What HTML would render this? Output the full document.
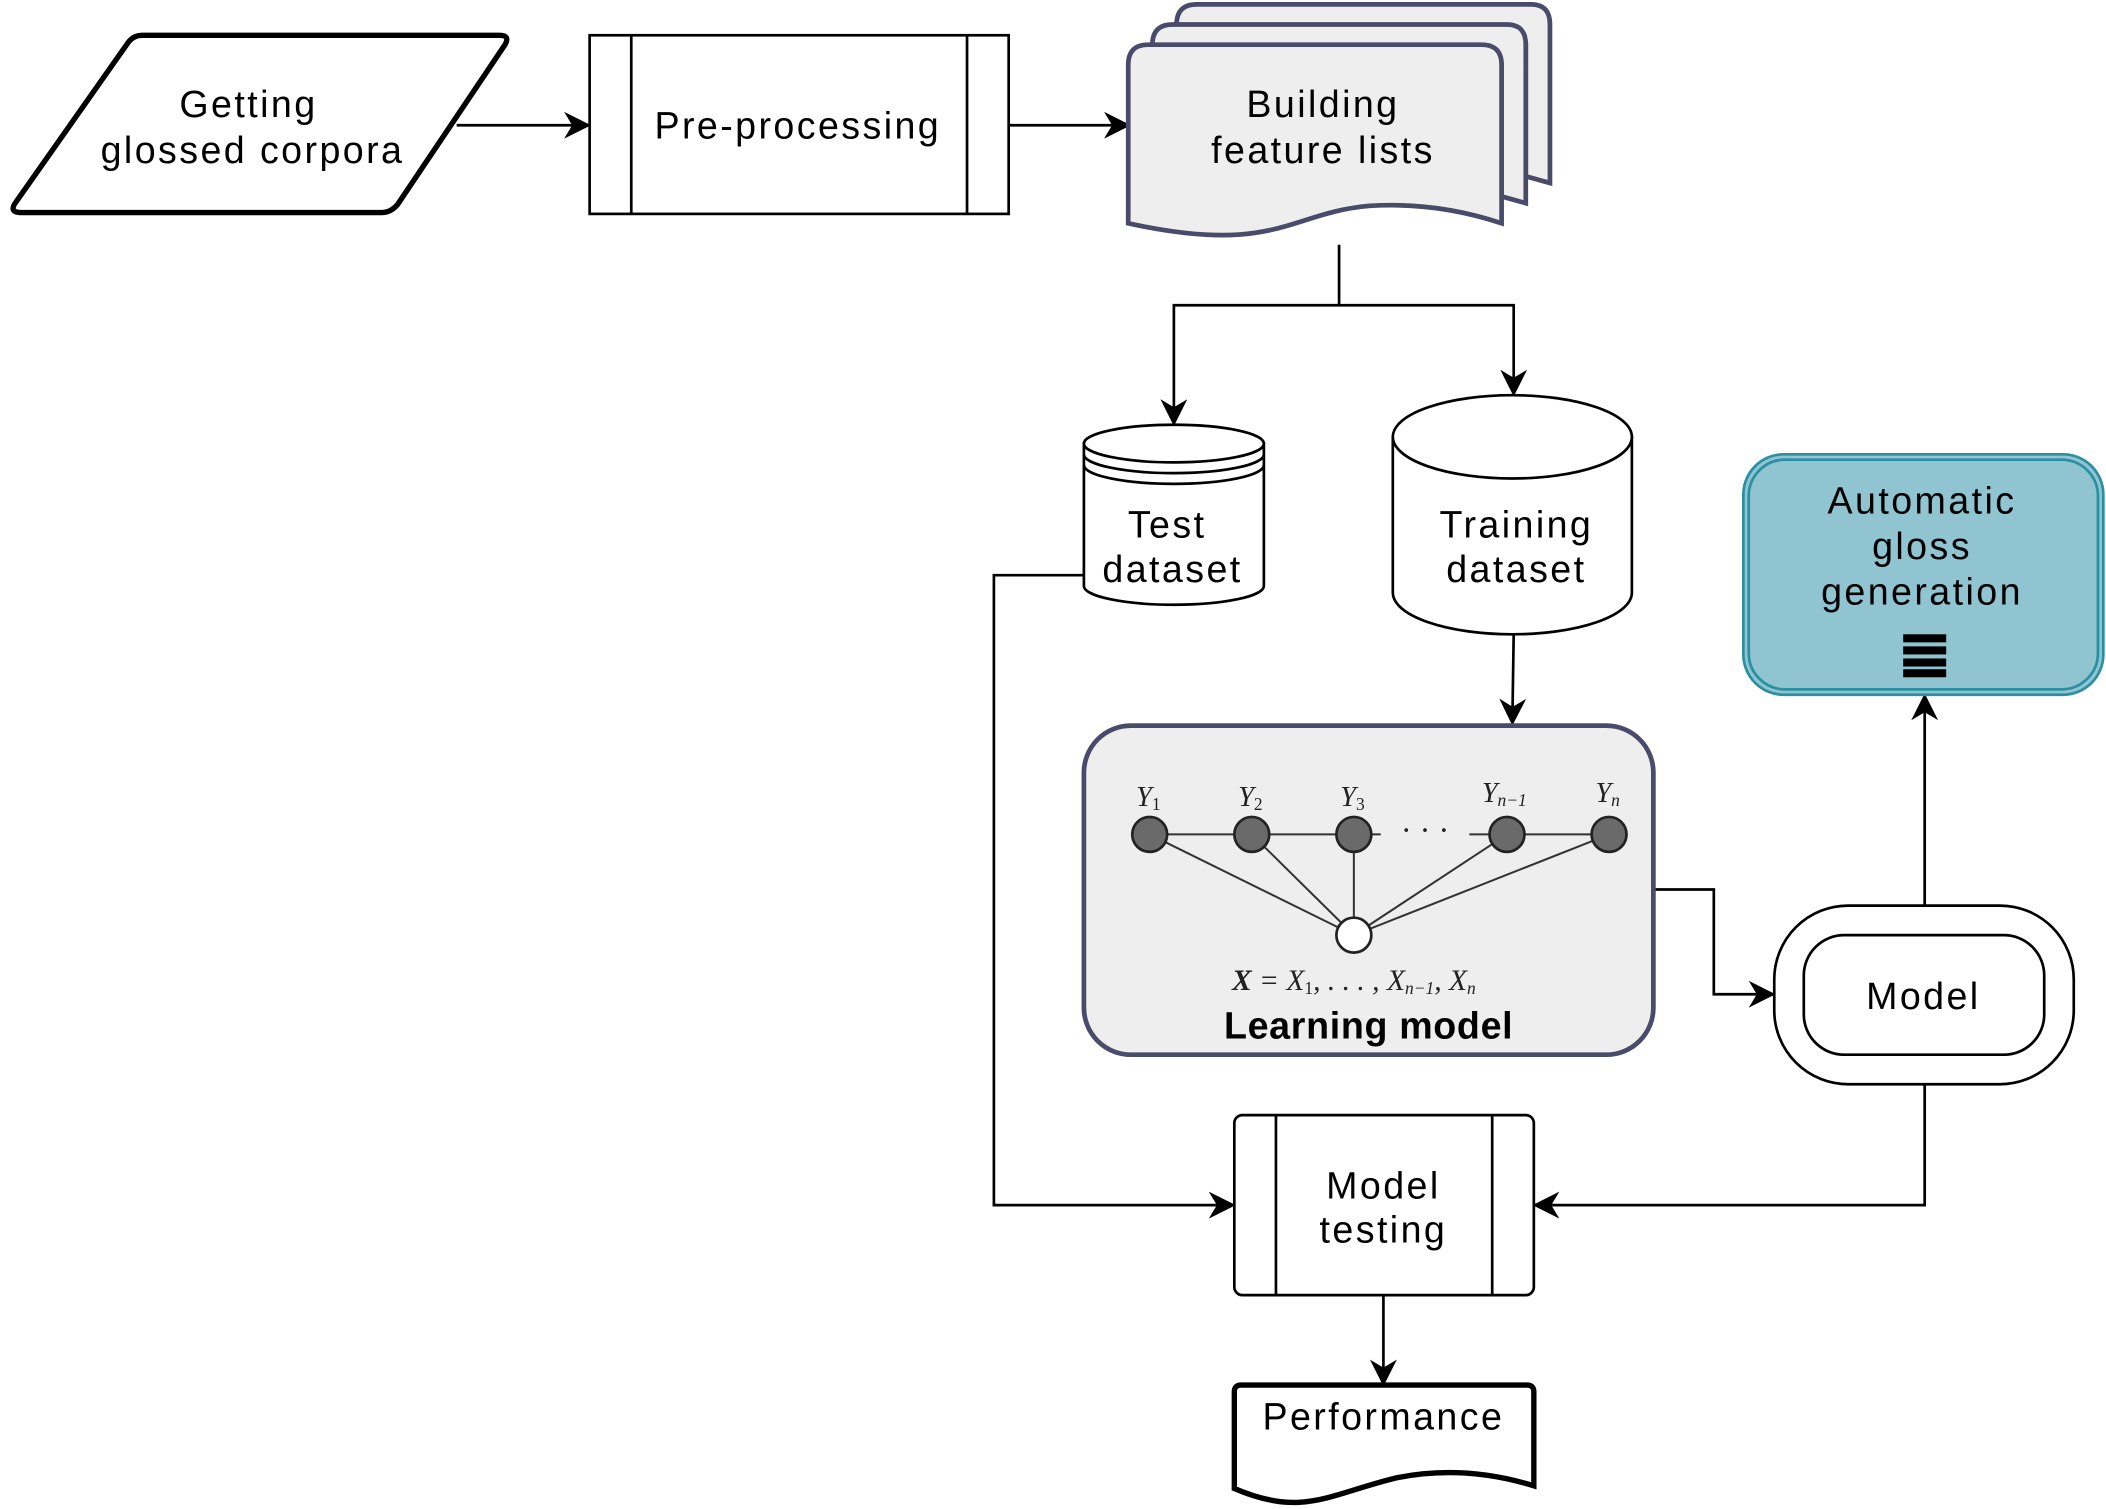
<!DOCTYPE html>
<html><head><meta charset="utf-8"><style>html,body{margin:0;padding:0;background:#fff}svg{display:block}</style></head><body>
<svg width="2106" height="1509" viewBox="0 0 1568 1123" xmlns="http://www.w3.org/2000/svg" font-family="Liberation Sans, sans-serif" font-size="28">
<defs><marker id="b" viewBox="0 0 10 10" refX="9" refY="5" markerWidth="20" markerHeight="20" orient="auto" markerUnits="userSpaceOnUse"><path d="M0,0 L10,5 L0,10 L3,5 z" fill="#000"/></marker></defs>
<g stroke="#000" stroke-width="2" fill="none">
<path d="M12,150 L95,32 Q99,26 106,26 L372,26 Q380,26 376,33 L296,152 Q291,158 284,158 L16,158 Q6,158 12,150 Z" stroke-width="4" fill="#fff"/>
<line x1="340" y1="93" x2="438" y2="93" marker-end="url(#b)"/>
<rect x="439" y="26" width="312" height="133" fill="#fff"/><line x1="470" y1="26" x2="470" y2="159"/><line x1="720" y1="26" x2="720" y2="159"/>
<line x1="751" y1="93" x2="840" y2="93" marker-end="url(#b)"/>
</g>
<g stroke="#4a4a6a" stroke-width="3.5" fill="#eeeeee">
<path d="M876,18 Q876,3 891,3 L1140,3 Q1154,3 1154,18 L1154,136 L1136,131 L1136,33 Z"/>
<path d="M858,33 Q858,18 873,18 L1122,18 Q1136,18 1136,33 L1136,151 L1118,146 L1118,48 Z"/>
<path d="M840,48 Q840,33 855,33 L1103,33 Q1118,33 1118,48 L1118,166 Q1070,150 1020,153 C960,158 950,190 840,166 Z"/>
</g>
<g stroke="#000" stroke-width="2" fill="none">
<polyline points="997,182 997,227 874,227 874,315" marker-end="url(#b)"/>
<polyline points="997,227 1127,227 1127,293" marker-end="url(#b)"/>
<path d="M807,330 L807,436 A67,14 0 0 0 941,436 L941,330 Z" fill="#fff"/>
<ellipse cx="874" cy="330" rx="67" ry="14" fill="#fff"/>
<path d="M807,338 A67,14 0 0 0 941,338 M807,346 A67,14 0 0 0 941,346"/>
<path d="M1037,325 L1037,441 A89,31 0 0 0 1215,441 L1215,325 Z" fill="#fff"/>
<ellipse cx="1126" cy="325" rx="89" ry="31" fill="#fff"/>
<line x1="1127" y1="472" x2="1126" y2="538" marker-end="url(#b)"/>
<polyline points="1231,662 1276,662 1276,740 1320,740" marker-end="url(#b)"/>
<rect x="1321" y="674" width="223" height="133" rx="55" fill="#fff"/>
<rect x="1343" y="696" width="179" height="89" rx="30" fill="#fff"/>
<line x1="1433" y1="674" x2="1433" y2="518" marker-end="url(#b)"/>
<polyline points="807,428 740,428 740,897 918,897" marker-end="url(#b)"/>
<rect x="919" y="830" width="223" height="134" rx="6" fill="#fff"/><line x1="950" y1="830" x2="950" y2="964"/><line x1="1111" y1="830" x2="1111" y2="964"/>
<polyline points="1433,807 1433,897 1143,897" marker-end="url(#b)"/>
<line x1="1030" y1="964" x2="1030" y2="1030" marker-end="url(#b)"/>
<path d="M919,1108 L919,1036 Q919,1031 924,1031 L1137,1031 Q1142,1031 1142,1036 L1142,1106 Q1090,1090 1040,1100 C990,1112 970,1130 919,1108 Z" stroke-width="4" fill="#fff"/>
</g>
<rect x="807" y="540" width="424" height="245" rx="35" fill="#eeeeee" stroke="#4a4a6a" stroke-width="3.5"/>
<g stroke="#333" stroke-width="1.5">
<line x1="856" y1="621" x2="1028" y2="621"/><line x1="1094" y1="621" x2="1198" y2="621"/>
<line x1="856" y1="621" x2="1008" y2="696"/><line x1="932" y1="621" x2="1008" y2="696"/><line x1="1008" y1="621" x2="1008" y2="696"/><line x1="1122" y1="621" x2="1008" y2="696"/><line x1="1198" y1="621" x2="1008" y2="696"/>
<g fill="#6a6a6a" stroke="#222" stroke-width="2"><circle cx="856" cy="621" r="13"/><circle cx="932" cy="621" r="13"/><circle cx="1008" cy="621" r="13"/><circle cx="1122" cy="621" r="13"/><circle cx="1198" cy="621" r="13"/></g>
<circle cx="1008" cy="696" r="13" fill="#fff" stroke="#222" stroke-width="2"/>
</g>
<g font-family="Liberation Serif, serif" font-style="italic" font-size="21" fill="#222" text-anchor="middle">
<text x="855" y="600">Y<tspan font-size="13" dy="3" font-style="normal">1</tspan></text>
<text x="931" y="600">Y<tspan font-size="13" dy="3" font-style="normal">2</tspan></text>
<text x="1007" y="600">Y<tspan font-size="13" dy="3" font-style="normal">3</tspan></text>
<text x="1120" y="597">Y<tspan font-size="13" dy="3">n−1</tspan></text>
<text x="1197" y="597">Y<tspan font-size="13" dy="3">n</tspan></text>
<text x="1061" y="626" font-style="normal" font-size="24">· · ·</text>
<text x="1008" y="737" font-size="22"><tspan font-weight="bold">X</tspan> = X<tspan font-size="13" dy="3" font-style="normal">1</tspan><tspan dy="-3">, . . . , X</tspan><tspan font-size="13" dy="3">n−1</tspan><tspan dy="-3">, X</tspan><tspan font-size="13" dy="3">n</tspan></text>
</g>
<rect x="1298" y="338" width="268" height="179" rx="30" fill="#8fc4d0" stroke="#2a8fa0" stroke-width="2"/>
<rect x="1302" y="342" width="260" height="171" rx="27" fill="none" stroke="#2a8fa0" stroke-width="2"/>
<g fill="#000"><rect x="1417" y="472" width="32" height="6"/><rect x="1417" y="481" width="32" height="6"/><rect x="1417" y="490" width="32" height="6"/><rect x="1417" y="498" width="32" height="6"/></g>
<g text-anchor="middle" fill="#000" letter-spacing="1.8">
<text x="185" y="87">Getting</text><text x="188" y="121">glossed corpora</text>
<text x="594" y="103">Pre-processing</text>
<text x="985" y="87">Building</text><text x="985" y="121">feature lists</text>
<text x="869" y="400">Test</text><text x="873" y="433">dataset</text>
<text x="1129" y="400">Training</text><text x="1129" y="433">dataset</text>
<text x="1019" y="773" font-weight="bold" letter-spacing="0.5">Learning model</text>
<text x="1432" y="751">Model</text>
<text x="1431" y="382">Automatic</text><text x="1431" y="416">gloss</text><text x="1431" y="450">generation</text>
<text x="1030" y="892">Model</text><text x="1030" y="925">testing</text>
<text x="1030" y="1064">Performance</text>
</g>
</svg>
</body></html>
